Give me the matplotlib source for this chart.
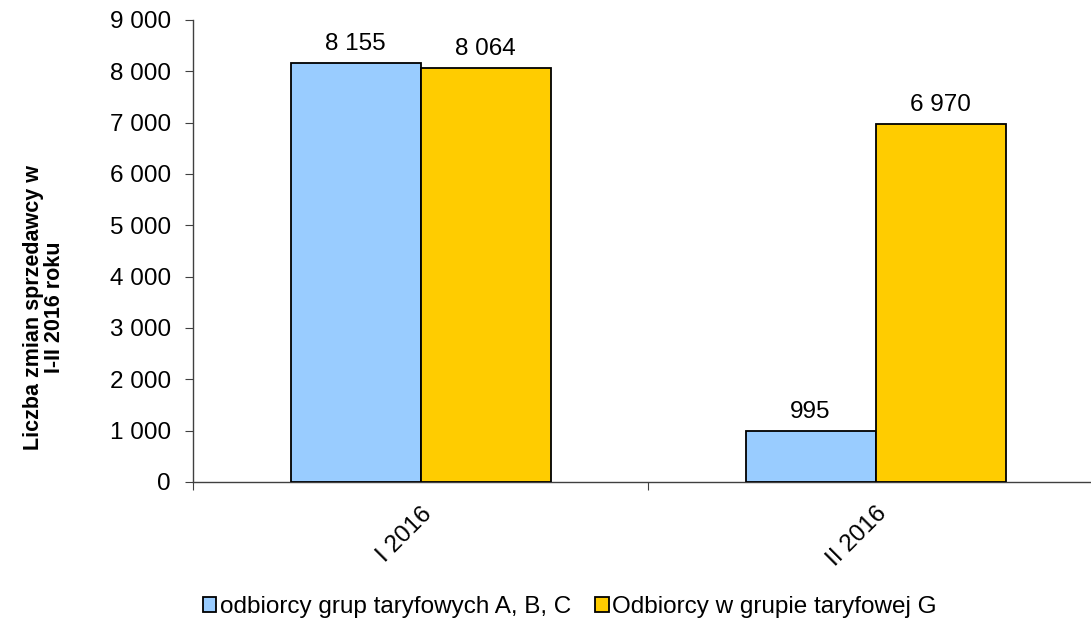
import matplotlib
matplotlib.use("Agg")
import matplotlib.pyplot as plt
import numpy as np

categories = ["I 2016", "II 2016"]
series_names = ["odbiorcy grup taryfowych A, B, C", "Odbiorcy w grupie taryfowej G"]
abc_values = [8155, 995]
g_values = [8064, 6970]
yticks = [0, 1000, 2000, 3000, 4000, 5000, 6000, 7000, 8000, 9000]

plt.rcParams['font.family'] = ['Liberation Sans', 'DejaVu Sans']

fig = plt.figure(figsize=(10.91, 6.22), dpi=100)
ax = fig.add_axes([193/1091, 1-482/622, 910/1091, (482-20)/622])

x = np.arange(len(categories)) + 0.5
w = 130/455
colors = ["#99CCFF", "#FFCC00"]
FS = 17.5

def fmt(v):
    return f"{v:,}".replace(",", " ")

for i, (vals, c, name) in enumerate(zip([abc_values, g_values], colors, series_names)):
    pos = x - w/2 + i*w
    ax.bar(pos, vals, width=w, color=c, edgecolor="black", linewidth=1.3, label=name, zorder=3)
    for p, v in zip(pos, vals):
        ax.annotate(fmt(v), (p, v), xytext=(0, 6), textcoords="offset points",
                    ha="center", va="bottom", fontsize=FS)

ax.set_xlim(0, len(categories))
ax.set_ylim(0, 9000)
ax.set_yticks(yticks)
ax.set_yticklabels([fmt(t) for t in yticks], fontsize=FS)
ax.set_xticks(np.arange(len(categories)+1))
ax.set_xticklabels([])
ax.set_xticks(x, minor=True)
ax.set_xticklabels(categories, minor=True, rotation=45, ha="right", va="top",
                   rotation_mode="anchor", fontsize=FS)
ax.tick_params(axis="x", which="minor", length=0, pad=15)
ax.tick_params(axis="x", which="major", length=6, direction="out", color="#404040")
ax.tick_params(axis="y", length=6, direction="out", color="#404040", pad=10)

for s in ["top", "right"]:
    ax.spines[s].set_visible(False)
for s in ["left", "bottom"]:
    ax.spines[s].set_color("#404040")
    ax.spines[s].set_linewidth(1.0)

fig.text(44/1091, 1-307/622, "Liczba zmian sprzedawcy w\nI-II 2016 roku", rotation=90,
         ha="center", va="center", fontsize=15.5, fontweight="bold", linespacing=1.05)

leg = fig.legend(loc="center", bbox_to_anchor=(570/1091, 1-607/622), ncol=2, frameon=False,
                 fontsize=FS, handlelength=0.55, handleheight=0.55, handletextpad=0.15,
                 columnspacing=1.0, borderaxespad=0)

fig.savefig("out.png", dpi=100)
